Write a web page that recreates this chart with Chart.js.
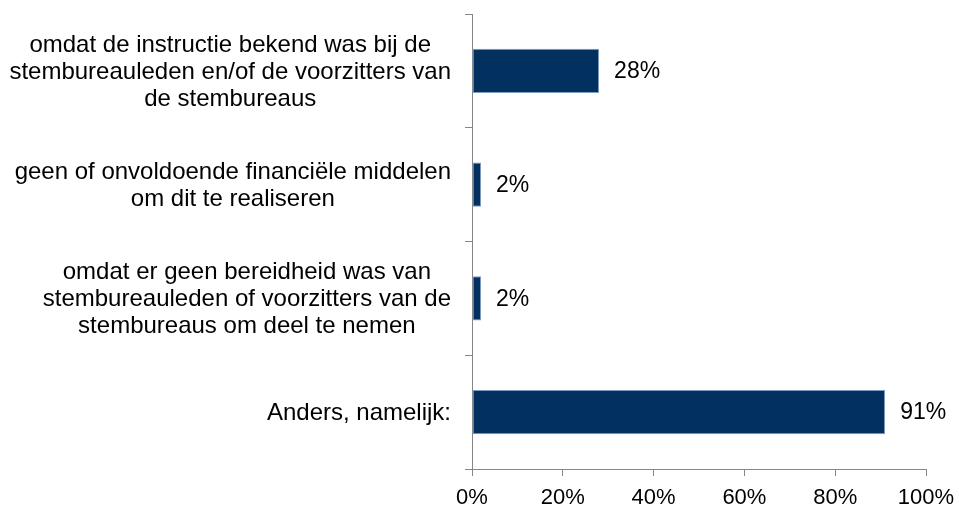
<!DOCTYPE html>
<html>
<head>
<meta charset="utf-8">
<script src="https://cdn.jsdelivr.net/npm/chart.js@4/dist/chart.umd.min.js"></script>
<style>
html,body{margin:0;padding:0;background:#fff;}
#wrap{width:959px;height:509px;position:relative;}
</style>
</head>
<body>
<div id="wrap"><canvas id="c" width="959" height="509"></canvas></div>
<script>
const categories = [
  ["omdat de instructie bekend was bij de", "stembureauleden en/of de voorzitters van", "de stembureaus"],
  ["geen of onvoldoende financiële middelen", "om dit te realiseren"],
  ["omdat er geen bereidheid was van", "stembureauleden of voorzitters van de", "stembureaus om deel te nemen"],
  ["Anders, namelijk:"]
];
const values = [28, 2, 2, 91];
const xTicks = [0, 20, 40, 60, 80, 100];

const FONT = '"Liberation Sans", Arial, sans-serif';

const labelPlugin = {
  id: 'customLabels',
  afterDatasetsDraw(chart) {
    const ctx = chart.ctx;
    const y = chart.scales.y;
    const x = chart.scales.x;
    ctx.save();
    ctx.fillStyle = '#000';
    ctx.font = '24px ' + FONT;
    ctx.textBaseline = 'middle';
    ctx.textAlign = 'center';
    const right = x.left - 21;
    const lh = 27;
    categories.forEach((lines, i) => {
      const cy = y.getPixelForValue(i);
      const maxW = Math.max(...lines.map(l => ctx.measureText(l).width));
      const cx = right - maxW / 2;
      const start = cy - (lines.length - 1) * lh / 2 + 1;
      lines.forEach((l, j) => ctx.fillText(l, cx, start + j * lh));
    });
    ctx.font = '23px ' + FONT;
    ctx.textAlign = 'left';
    const meta = chart.getDatasetMeta(0);
    meta.data.forEach((bar, i) => {
      ctx.fillText(values[i] + '%', bar.x + 15, bar.y + 1);
    });
    ctx.restore();
  }
};

new Chart(document.getElementById('c'), {
  type: 'bar',
  data: {
    labels: categories.map(c => c.join(' ')),
    datasets: [{
      data: values,
      backgroundColor: '#02305f',
      borderColor: '#7f9cc4',
      borderWidth: 1,
      borderSkipped: false,
      barPercentage: 0.39,
      categoryPercentage: 1
    }]
  },
  options: {
    indexAxis: 'y',
    responsive: false,
    animation: false,
    devicePixelRatio: 1,
    layout: { padding: { top: 14, right: 33, left: 0, bottom: 0 } },
    plugins: { legend: { display: false }, tooltip: { enabled: false } },
    scales: {
      x: {
        min: 0, max: 100,
        afterBuildTicks(scale) { scale.ticks = xTicks.map(v => ({ value: v })); },
        afterFit(scale) { scale.height = 40; scale.paddingLeft = 0; scale.paddingRight = 0; },
        ticks: {
          callback: v => v + '%',
          color: '#000',
          font: { family: FONT, size: 22 },
          padding: 9,
          maxRotation: 0
        },
        grid: { drawOnChartArea: false, drawTicks: true, tickLength: 7, color: '#868686' },
        border: { color: '#868686', width: 1 }
      },
      y: {
        afterFit(scale) { scale.width = 472; scale.paddingTop = 0; scale.paddingBottom = 0; },
        ticks: { display: false },
        grid: { drawOnChartArea: false, drawTicks: true, tickLength: 7, color: '#868686', offset: true },
        border: { color: '#868686', width: 1 }
      }
    }
  },
  plugins: [labelPlugin]
});
</script>
</body>
</html>
